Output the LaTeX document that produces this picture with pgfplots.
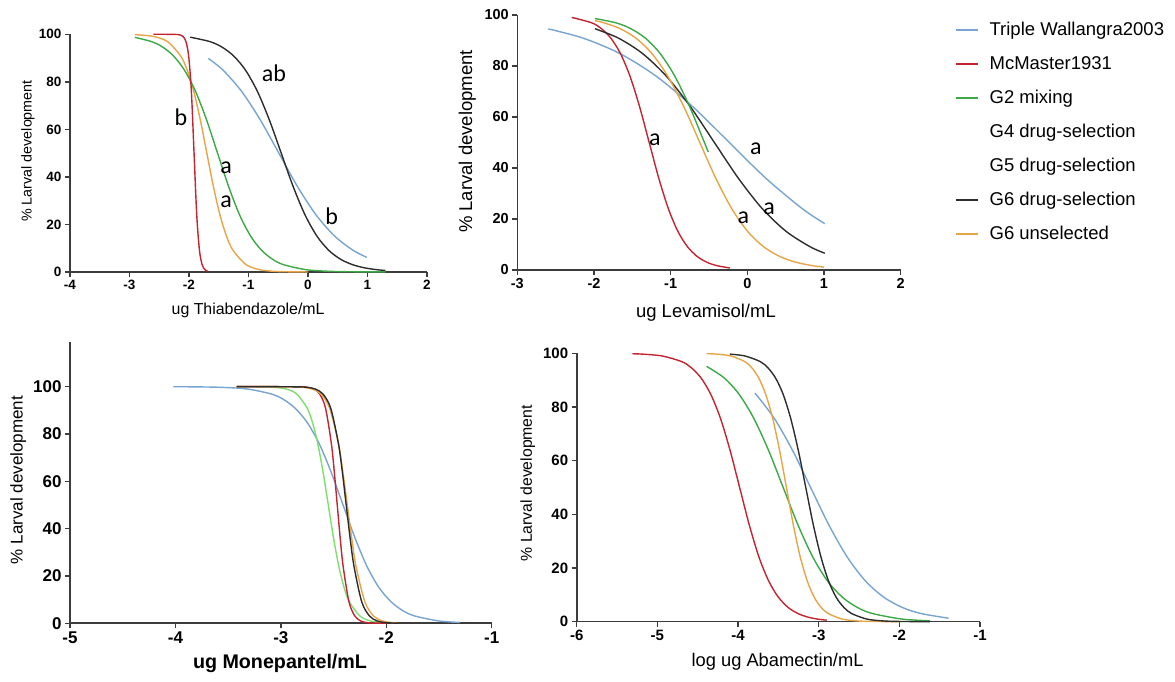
\documentclass[border=0pt]{standalone}
\usepackage{pgfplots}
\pgfplotsset{compat=1.18}
\usepackage{fontspec}
\setmainfont{Liberation Sans}
\newfontfamily\cali{Carlito}
\newcommand\fs[1]{\fontsize{#1}{#1}\selectfont}
\definecolor{cblue}{RGB}{120,164,210}
\definecolor{cred}{RGB}{196,36,48}
\definecolor{cgreen}{RGB}{60,168,70}
\definecolor{cgreenl}{RGB}{125,222,110}
\definecolor{cblack}{RGB}{45,45,45}
\definecolor{corange}{RGB}{232,165,70}
\definecolor{caxis}{RGB}{60,60,60}
\tikzset{ann/.style={font=\cali\fs{24}}}
\pgfplotsset{
  panel/.style={
    scale only axis, anchor=south west,
    axis x line=bottom, axis y line=left,
    axis line style={-, line width=1.6pt, draw=caxis},
    tick style={line width=1.4pt, draw=caxis},
    tick align=outside, major tick length=5pt,
    enlargelimits=false, clip=false,
    /pgf/number format/assume math mode=true,
    every axis y label/.style={rotate=90, anchor=center},
    every axis x label/.style={anchor=center},
    every axis plot/.append style={line width=1.4pt, smooth},
  },
}
\begin{document}
\begin{tikzpicture}
\useasboundingbox (0,0) rectangle (1175pt,682pt);
% ---------------- Panel 1 ----------------
\begin{axis}[panel, at={(70pt,410pt)}, width=357pt, height=237.7pt,
  xmin=-4, xmax=2, ymin=0, ymax=100, xtick={-4,...,2}, ytick={0,20,...,100},
  tick label style={font=\bfseries\fs{13.5}},
  ylabel={\% Larval development}, ylabel style={font=\fs{14.3}, at={(axis description cs:-0.118,0.509)}},
  xlabel={ug Thiabendazole/mL}, xlabel style={font=\fs{15.9}, at={(axis description cs:0.499,0)}, yshift=-38pt}]
\addplot[cblue] coordinates {(-1.675,89.87) (-1.4275,84.90) (-1.115,75.97) (-0.8025,64.01) (-0.49,50) (-0.1775,35.99) (0.135,24.03) (0.4475,15.10) (0.76,9.09) (0.99,6.14)};
\addplot[cblack] coordinates {(-1.98,98.79) (-1.65,96.93) (-1.45,94.68) (-1.25,90.91) (-1.05,84.90) (-0.85,75.97) (-0.65,64.01) (-0.45,50) (-0.25,35.99) (-0.05,24.03) (0.15,15.10) (0.35,9.09) (0.55,5.32) (0.75,3.07) (0.95,1.75) (1.15,0.99) (1.3,0.65)};
\addplot[corange] coordinates {(-2.91,99.82) (-2.801,99.68) (-2.581,99.01) (-2.361,96.93) (-2.141,90.91) (-2.030,84.90) (-1.920,75.97) (-1.810,64.01) (-1.700,50) (-1.590,35.99) (-1.480,24.03) (-1.370,15.10) (-1.260,9.09) (-1.039,3.07) (-0.819,0.99) (-0.599,0.32) (-0.379,0.10) (0.0,0.01)};
\addplot[cgreen] coordinates {(-2.91,98.69) (-2.631,96.93) (-2.446,94.68) (-2.261,90.91) (-2.076,84.90) (-1.890,75.97) (-1.705,64.01) (-1.520,50) (-1.335,35.99) (-1.150,24.03) (-0.964,15.10) (-0.779,9.09) (-0.594,5.32) (-0.409,3.07) (-0.039,0.99) (0.332,0.32) (0.702,0.10) (1.3,0.02)};
\addplot[cred] coordinates {(-2.6,100) (-2.4,100) (-2.188,99.90) (-2.142,99.68) (-2.097,99.01) (-2.051,96.93) (-2.006,90.91) (-1.960,75.97) (-1.915,50) (-1.870,24.03) (-1.824,9.09) (-1.779,3.07) (-1.733,0.99) (-1.688,0.32)};
\node[ann] at (axis cs:-2.134,65.3) {b};
\node[ann] at (axis cs:-0.571,83.6) {ab};
\node[ann] at (axis cs:-1.378,43.9) {a};
\node[ann] at (axis cs:-1.378,29.6) {a};
\node[ann] at (axis cs:0.40,23.3) {b};
\end{axis}
% ---------------- Panel 2 ----------------
\begin{axis}[panel, at={(517.3pt,412pt)}, width=383.4pt, height=255pt,
  xmin=-3, xmax=2, ymin=0, ymax=100, xtick={-3,...,2}, ytick={0,20,...,100},
  tick label style={font=\bfseries\fs{14.5}},
  ylabel={\% Larval development}, ylabel style={font=\fs{18.5}, at={(axis description cs:-0.130,0.504)}},
  xlabel={ug Levamisol/mL}, xlabel style={font=\fs{18.5}, at={(axis description cs:0.492,0)}, yshift=-43pt}]
\addplot[cblue] coordinates {(-2.596,94.55) (-2.140,90.91) (-1.664,84.90) (-1.187,75.97) (-0.711,64.01) (-0.235,50) (0.241,35.99) (0.717,24.03) (1.01,18.17)};
\addplot[cred] coordinates {(-2.29,99.05) (-2.03,96.93) (-1.905,94.68) (-1.78,90.91) (-1.655,84.90) (-1.53,75.97) (-1.405,64.01) (-1.28,50) (-1.155,35.99) (-1.03,24.03) (-0.905,15.10) (-0.78,9.09) (-0.655,5.32) (-0.53,3.07) (-0.405,1.75) (-0.227,0.78)};
\addplot[cblack] coordinates {(-1.987,94.62) (-1.68,90.91) (-1.3675,84.90) (-1.055,75.97) (-0.7425,64.01) (-0.43,50) (-0.1175,35.99) (0.195,24.03) (0.5075,15.10) (0.82,9.09) (1.01,6.58)};
\addplot[corange] coordinates {(-1.987,97.76) (-1.870,96.93) (-1.662,94.68) (-1.453,90.91) (-1.245,84.90) (-1.037,75.97) (-0.828,64.01) (-0.62,50) (-0.412,35.99) (-0.203,24.03) (0.005,15.10) (0.213,9.09) (0.422,5.32) (0.630,3.07) (0.838,1.75) (1.0,1.12)};
\addplot[cgreen] coordinates {(-1.987,98.62) (-1.714,96.93) (-1.522,94.68) (-1.329,90.91) (-1.137,84.90) (-0.945,75.97) (-0.752,64.01) (-0.56,50) (-0.51,46.27)};
\node[ann] at (axis cs:-1.205,51) {a};
\node[ann] at (axis cs:0.11,47.7) {a};
\node[ann] at (axis cs:0.285,24.2) {a};
\node[ann] at (axis cs:-0.053,20.3) {a};
\end{axis}
% ---------------- Panel 3 ----------------
\begin{axis}[panel, at={(70pt,58.7pt)}, width=421.7pt, height=281.6pt,
  xmin=-5, xmax=-1, ymin=0, ymax=119, xtick={-5,...,-1}, ytick={0,20,...,100},
  tick label style={font=\bfseries\fs{17}},
  ylabel={\% Larval development}, ylabel style={font=\fs{17}, at={(axis description cs:-0.123,0.509)}},
  xlabel={\bfseries ug Monepantel/mL}, xlabel style={font=\fs{19.7}, at={(axis description cs:0.498,0)}, yshift=-40pt}]
\addplot[cblue] coordinates {(-4.02,99.97) (-3.774,99.90) (-3.546,99.68) (-3.319,99.01) (-3.092,96.93) (-2.978,94.68) (-2.865,90.91) (-2.751,84.90) (-2.637,75.97) (-2.524,64.01) (-2.41,50) (-2.296,35.99) (-2.183,24.03) (-2.069,15.10) (-1.955,9.09) (-1.842,5.32) (-1.728,3.07) (-1.501,0.99) (-1.3,0.36)};
\addplot[cgreenl] coordinates {(-3.42,100) (-3.15,99.90) (-3.05,99.68) (-2.95,99.01) (-2.85,96.93) (-2.75,90.91) (-2.70,84.90) (-2.65,75.97) (-2.60,64.01) (-2.55,50) (-2.50,35.99) (-2.45,24.03) (-2.40,15.10) (-2.35,9.09) (-2.25,3.07) (-2.15,0.99) (-2.05,0.32) (-2.0,0.18)};
\addplot[cred] coordinates {(-3.42,100) (-3.1,100) (-2.798,99.90) (-2.743,99.68) (-2.687,99.01) (-2.632,96.93) (-2.576,90.91) (-2.521,75.97) (-2.493,64.01) (-2.465,50) (-2.437,35.99) (-2.409,24.03) (-2.354,9.09) (-2.298,3.07) (-2.243,0.99) (-2.187,0.32) (-2.132,0.10) (-2.0,0)};
\addplot[corange] coordinates {(-3.42,100) (-3.1,100) (-2.870,99.90) (-2.787,99.68) (-2.703,99.01) (-2.620,96.93) (-2.537,90.91) (-2.453,75.97) (-2.412,64.01) (-2.37,50) (-2.328,35.99) (-2.287,24.03) (-2.203,9.09) (-2.120,3.07) (-2.037,0.99) (-1.953,0.32) (-1.9,0.15)};
\addplot[cblack] coordinates {(-3.42,100) (-3.1,100) (-2.821,99.90) (-2.748,99.68) (-2.674,99.01) (-2.601,96.93) (-2.527,90.91) (-2.454,75.97) (-2.417,64.01) (-2.38,50) (-2.343,35.99) (-2.306,24.03) (-2.233,9.09) (-2.159,3.07) (-2.086,0.99) (-2.012,0.32) (-1.9,0.05)};
\end{axis}
% ---------------- Panel 4 ----------------
\begin{axis}[panel, at={(576.7pt,60.3pt)}, width=403.3pt, height=268.4pt,
  xmin=-6, xmax=-1, ymin=0, ymax=100, xtick={-6,...,-1}, ytick={0,20,...,100},
  tick label style={font=\bfseries\fs{15}},
  ylabel={\% Larval development}, ylabel style={font=\fs{15.8}, at={(axis description cs:-0.121,0.516)}},
  xlabel={log ug Abamectin/mL}, xlabel style={font=\fs{18.3}, at={(axis description cs:0.498,0)}, yshift=-40pt}]
\addplot[cblue] coordinates {(-3.79,85.17) (-3.555,75.97) (-3.327,64.01) (-3.10,50) (-2.873,35.99) (-2.645,24.03) (-2.418,15.10) (-2.191,9.09) (-1.964,5.32) (-1.736,3.07) (-1.39,1.30)};
\addplot[cred] coordinates {(-5.31,99.83) (-5.182,99.68) (-4.942,99.01) (-4.701,96.93) (-4.581,94.68) (-4.461,90.91) (-4.341,84.90) (-4.220,75.97) (-4.100,64.01) (-3.98,50) (-3.860,35.99) (-3.740,24.03) (-3.619,15.10) (-3.499,9.09) (-3.379,5.32) (-3.259,3.07) (-3.139,1.75) (-3.018,0.99) (-2.90,0.56)};
\addplot[cgreen] coordinates {(-4.39,95.14) (-4.175,90.91) (-3.991,84.90) (-3.808,75.97) (-3.624,64.01) (-3.44,50) (-3.256,35.99) (-3.072,24.03) (-2.889,15.10) (-2.705,9.09) (-2.521,5.32) (-2.337,3.07) (-1.969,0.99) (-1.62,0.33)};
\addplot[corange] coordinates {(-4.39,99.87) (-4.262,99.68) (-4.090,99.01) (-3.917,96.93) (-3.831,94.68) (-3.745,90.91) (-3.659,84.90) (-3.572,75.97) (-3.486,64.01) (-3.40,50) (-3.314,35.99) (-3.228,24.03) (-3.141,15.10) (-3.055,9.09) (-2.969,5.32) (-2.883,3.07) (-2.710,0.99) (-2.538,0.32) (-2.366,0.10) (-1.99,0.01)};
\addplot[cblack] coordinates {(-4.10,99.68) (-3.915,99.01) (-3.726,96.93) (-3.632,94.68) (-3.537,90.91) (-3.443,84.90) (-3.349,75.97) (-3.254,64.01) (-3.16,50) (-3.066,35.99) (-2.971,24.03) (-2.877,15.10) (-2.783,9.09) (-2.688,5.32) (-2.594,3.07) (-2.405,0.99) (-2.217,0.32) (-2.028,0.10) (-1.62,0.01)};
\end{axis}
% ---------------- Legend ----------------
\begin{axis}[at={(955pt,461pt)}, anchor=south west, scale only axis, width=200pt, height=200pt,
  hide axis, xmin=0, xmax=1, ymin=0, ymax=1,
  legend style={at={(0,1)}, anchor=north west, draw=none, fill=none, inner sep=0pt,
    row sep=16pt, column sep=11pt, font=\fs{18.5},
    nodes={inner sep=0pt, text height=14pt, text depth=4pt}},
  legend cell align=left,
  legend image code/.code={\draw[#1, line width=1.4pt] (0pt,0pt) -- (22pt,0pt);}]
\addlegendimage{cblue}\addlegendentry{Triple Wallangra2003}
\addlegendimage{cred}\addlegendentry{McMaster1931}
\addlegendimage{cgreen}\addlegendentry{G2 mixing}
\addlegendimage{white, opacity=0}\addlegendentry{G4 drug-selection}
\addlegendimage{white, opacity=0}\addlegendentry{G5 drug-selection}
\addlegendimage{cblack}\addlegendentry{G6 drug-selection}
\addlegendimage{corange}\addlegendentry{G6 unselected}
\end{axis}
\end{tikzpicture}
\end{document}
